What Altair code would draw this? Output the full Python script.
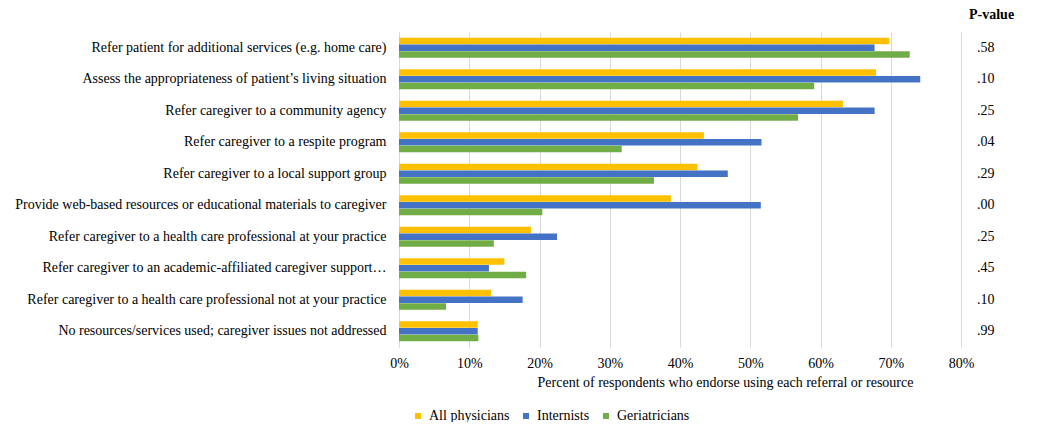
import altair as alt
import pandas as pd

categories = [
    "Refer patient for additional services (e.g. home care)",
    "Assess the appropriateness of patient\u2019s living situation",
    "Refer caregiver to a community agency",
    "Refer caregiver to a respite program",
    "Refer caregiver to a local support group",
    "Provide web-based resources or educational materials to caregiver",
    "Refer caregiver to a health care professional at your practice",
    "Refer caregiver to an academic-affiliated caregiver support\u2026",
    "Refer caregiver to a health care professional not at your practice",
    "No resources/services used; caregiver issues not addressed",
]
series = ["All physicians", "Internists", "Geriatricians"]
all_physicians = [69.8, 67.9, 63.2, 43.4, 42.5, 38.7, 18.8, 15.0, 13.1, 11.2]
internists = [67.7, 74.2, 67.7, 51.6, 46.8, 51.5, 22.5, 12.8, 17.6, 11.2]
geriatricians = [72.7, 59.1, 56.8, 31.7, 36.3, 20.4, 13.5, 18.1, 6.7, 11.3]
p_values = [".58", ".10", ".25", ".04", ".29", ".00", ".25", ".45", ".10", ".99"]
colors = ["#FFC000", "#4472C4", "#70AD47"]
x_ticks = [0, 10, 20, 30, 40, 50, 60, 70, 80]

rows = []
for s, vals in zip(series, [all_physicians, internists, geriatricians]):
    for c, v in zip(categories, vals):
        rows.append({"category": c, "series": s, "value": v})
df = pd.DataFrame(rows)
pdf = pd.DataFrame({"category": categories, "p": p_values})

FONT = "'Liberation Serif', 'Times New Roman', serif"
FS = 14
W, H = 562, 315

y_enc = alt.Y(
    "category:N",
    sort=categories,
    scale=alt.Scale(paddingInner=0.36, paddingOuter=0.18),
    axis=alt.Axis(
        title=None, ticks=False, labelPadding=13, labelLimit=450,
        labelFont=FONT, labelFontSize=FS, labelColor="#000000",
        domain=True, domainColor="#d9d9d9",
    ),
)

bars = alt.Chart(df).mark_bar().encode(
    x=alt.X(
        "value:Q",
        scale=alt.Scale(domain=[0, 80], nice=False),
        axis=alt.Axis(
            values=x_ticks, labelExpr="datum.value + '%'", ticks=False, domain=False,
            grid=True, gridColor="#d9d9d9", labelFont=FONT, labelFontSize=FS,
            labelColor="#000000", labelPadding=9, labelFlush=False,
            title="Percent of respondents who endorse using each referral or resource",
            titleFont=FONT, titleFontSize=FS, titleFontWeight="normal",
            titleColor="#000000", titlePadding=5, titleX=326,
        ),
    ),
    y=y_enc,
    yOffset=alt.YOffset("series:N", sort=series, scale=alt.Scale(paddingInner=0.05)),
    color=alt.Color(
        "series:N",
        sort=series,
        scale=alt.Scale(domain=series, range=colors),
        legend=alt.Legend(
            title=None, orient="none", direction="horizontal",
            legendX=12, legendY=377, symbolType="square", symbolSize=36,
            symbolStrokeWidth=0, labelFont=FONT, labelFontSize=FS,
            labelColor="#000000", columnPadding=9, labelOffset=4, padding=0,
        ),
    ),
)

ptext = alt.Chart(pdf).mark_text(
    align="left", baseline="middle", font=FONT, fontSize=FS, color="#000000"
).encode(
    y=alt.Y("category:N", sort=categories),
    x=alt.value(578),
    text="p:N",
)

header = alt.Chart(pd.DataFrame({"t": ["P-value"]})).mark_text(
    align="left", baseline="middle", font=FONT, fontSize=FS,
    fontWeight="bold", color="#000000"
).encode(
    x=alt.value(570),
    y=alt.value(-17),
    text="t:N",
)

chart = alt.layer(bars, ptext, header).properties(
    width=W, height=H,
    autosize=alt.AutoSizeParams(type="none"),
    padding={"left": 391, "top": 24, "right": 70, "bottom": 75},
).configure_view(stroke=None)

chart.save("out.html", embed_options={"renderer": "svg", "actions": False})
